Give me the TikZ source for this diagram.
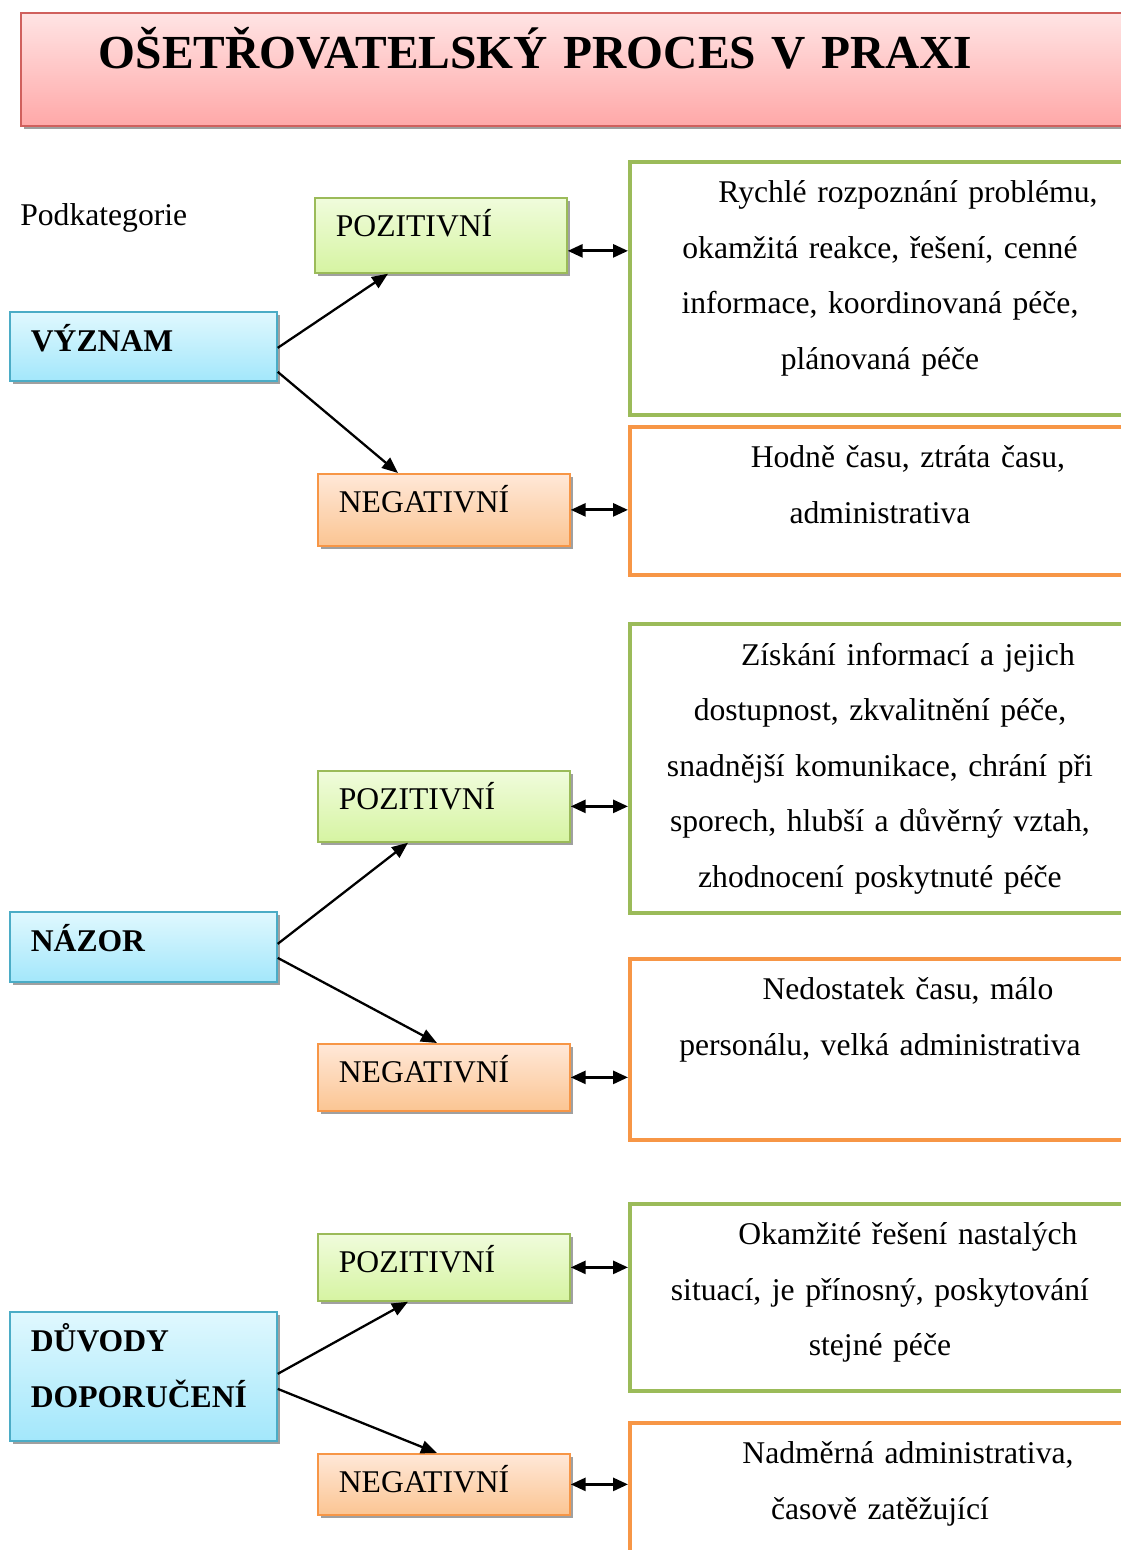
\documentclass[tikz,border=0pt]{standalone}
\usepackage{fontspec}
\setmainfont{Liberation Serif}
\usetikzlibrary{positioning,shadows,arrows.meta}

\definecolor{titleline}{HTML}{D0605D}
\definecolor{titletop}{HTML}{FFE4E4}
\definecolor{titlebottom}{HTML}{FFA8A8}
\definecolor{blueline}{HTML}{4BACC6}
\definecolor{bluetop}{HTML}{E0F8FE}
\definecolor{bluebottom}{HTML}{A3E7FB}
\definecolor{greenline}{HTML}{9BBB59}
\definecolor{greentop}{HTML}{F0FCDC}
\definecolor{greenbottom}{HTML}{D6F4A2}
\definecolor{orangeline}{HTML}{F79646}
\definecolor{orangetop}{HTML}{FFE8D8}
\definecolor{orangebottom}{HTML}{FBC593}
\definecolor{shadowgray}{HTML}{A0A0A0}

\begin{document}
\begin{tikzpicture}[x=0.02cm,y=-0.02cm,
    font=\fontsize{18}{31.6}\selectfont,
    shadebox/.style={draw, line width=1pt, anchor=north west, inner ysep=0pt,
      drop shadow={shadow xshift=0.06cm,shadow yshift=-0.06cm,fill=shadowgray,opacity=1}},
    mainbox/.style={shadebox, draw=blueline, top color=bluetop, bottom color=bluebottom,
      text width=4.5cm, inner xsep=0.42cm, align=left, text height=0.8cm,
      font=\fontsize{18}{31.6}\selectfont\bfseries},
    posbox/.style={shadebox, draw=greenline, top color=greentop, bottom color=greenbottom,
      text width=4.2cm, inner xsep=0.42cm, align=left, text height=0.78cm},
    negbox/.style={shadebox, draw=orangeline, top color=orangetop, bottom color=orangebottom,
      text width=4.2cm, inner xsep=0.42cm, align=left, text height=0.78cm},
    posinfo/.style={draw=greenline, line width=0.08cm, anchor=north west, minimum width=10cm},
    neginfo/.style={draw=orangeline, line width=0.08cm, anchor=north west, minimum width=10cm},
    infotext/.style={text width=9cm, align=center, inner sep=0pt},
    link/.style={-{Triangle[length=0.32cm,width=0.26cm]}, line width=1.3pt},
    both/.style={{Triangle[length=0.3cm,width=0.26cm]}-{Triangle[length=0.3cm,width=0.26cm]}, line width=1.6pt}]

  \useasboundingbox (0,0) rectangle (1121,1550);
  \clip (0,0) rectangle (1121,1550);

  % title
  \node[shadebox, draw=titleline, top color=titletop, bottom color=titlebottom,
    text width=19.28cm, inner xsep=1.56cm, align=left, text height=1.12cm, text depth=1.14cm,
    font=\fontsize{27}{32}\selectfont\bfseries] (title) at (20,12) {OŠETŘOVATELSKÝ PROCES V PRAXI};

  \node[anchor=base west, inner sep=0pt] (podkat) at (20,226) {Podkategorie};

  % main categories
  \node[mainbox, text depth=0.58cm] (vyznam) at (9,311) {VÝZNAM};
  \node[mainbox, text depth=0.6cm] (nazor) at (9,911) {NÁZOR};
  \node[mainbox, text depth=1.78cm] (duvody) at (9,1311) {DŮVODY\\DOPORUČENÍ};

  % subcategories
  \node[posbox, text depth=0.72cm] (pos1) at (314,197) {POZITIVNÍ};
  \node[negbox, text depth=0.66cm] (neg1) at (317,473) {NEGATIVNÍ};
  \node[posbox, text depth=0.64cm] (pos2) at (317,770) {POZITIVNÍ};
  \node[negbox, text depth=0.56cm] (neg2) at (317,1043) {NEGATIVNÍ};
  \node[posbox, text depth=0.56cm] (pos3) at (317,1233) {POZITIVNÍ};
  \node[negbox, text depth=0.44cm] (neg3) at (317,1453) {NEGATIVNÍ};

  % descriptions
  \node[posinfo, minimum height=5.06cm] (info1) at (628,160) {};
  \node[infotext, below=0.41cm of info1.north] (text1) {\hspace*{1.12cm}Rychlé rozpoznání problému,\\okamžitá reakce, řešení, cenné\\informace, koordinovaná péče,\\plánovaná péče};
  \node[neginfo, minimum height=2.96cm] (info2) at (628,425) {};
  \node[infotext, below=0.41cm of info2.north] (text2) {\hspace*{1.12cm}Hodně času, ztráta času,\\administrativa};
  \node[posinfo, minimum height=5.78cm] (info3) at (628,622) {};
  \node[infotext, below=0.41cm of info3.north] (text3) {\hspace*{1.12cm}Získání informací a jejich\\dostupnost, zkvalitnění péče,\\snadnější komunikace, chrání při\\sporech, hlubší a důvěrný vztah,\\zhodnocení poskytnuté péče};
  \node[neginfo, minimum height=3.62cm] (info4) at (628,957) {};
  \node[infotext, below=0.41cm of info4.north] (text4) {\hspace*{1.12cm}Nedostatek času, málo\\personálu, velká administrativa};
  \node[posinfo, minimum height=3.74cm] (info5) at (628,1202) {};
  \node[infotext, below=0.41cm of info5.north] (text5) {\hspace*{1.12cm}Okamžité řešení nastalých\\situací, je přínosný, poskytování\\stejné péče};
  \node[neginfo, minimum height=3.2cm] (info6) at (628,1421) {};
  \node[infotext, below=0.41cm of info6.north] (text6) {\hspace*{1.12cm}Nadměrná administrativa,\\časově zatěžující};

  % arrows
  \draw[link] ([yshift=-0.03cm]vyznam.east) -- ([xshift=1.48cm]pos1.south west);
  \draw[link] ([yshift=-0.51cm]vyznam.east) -- ([xshift=1.62cm]neg1.north west);
  \draw[link] ([yshift=0.06cm]nazor.east) -- ([xshift=1.82cm]pos2.south west);
  \draw[link] ([yshift=-0.22cm]nazor.east) -- ([xshift=2.4cm]neg2.north west);
  \draw[link] ([yshift=0.05cm]duvody.east) -- ([xshift=1.82cm]pos3.south west);
  \draw[link] ([yshift=-0.25cm]duvody.east) -- ([xshift=2.4cm]neg3.north west);

  \draw[both] ([yshift=-0.31cm]pos1.east) coordinate (p1) -- (p1 -| info1.west);
  \draw[both] (neg1.east) -- (neg1.east -| info2.west);
  \draw[both] (pos2.east) -- (pos2.east -| info3.west);
  \draw[both] (neg2.east) -- (neg2.east -| info4.west);
  \draw[both] (pos3.east) -- (pos3.east -| info5.west);
  \draw[both] (neg3.east) -- (neg3.east -| info6.west);
\end{tikzpicture}
\end{document}
